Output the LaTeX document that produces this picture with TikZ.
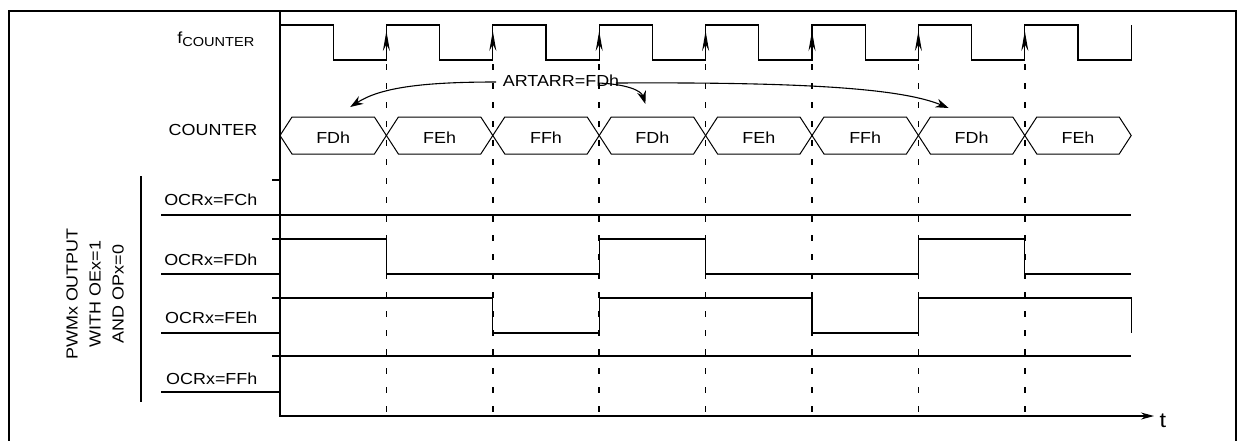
\documentclass[tikz,border=0pt]{standalone}
\usepackage{fontspec}
\setmainfont[FakeStretch=1.12]{Liberation Sans}
\usetikzlibrary{arrows.meta}

\begin{document}
\begin{tikzpicture}[x=1pt, y=-1pt, line width=1.3pt,
  every node/.style={font=\fontsize{16}{19}\selectfont, inner sep=0pt},
  rowlbl/.style={anchor=east},
  edge/.style={line width=1.7pt, dash pattern=on 6pt off 13pt},
  hexa/.style={line width=1pt},
  pointer/.style={line width=1.1pt, -{Stealth[length=13pt,width=9pt]}}]
  \useasboundingbox (0,0) rectangle (1239,440);
  \draw (9,11) rectangle (1236,445);
  \def\T{106.4}

  % axes
  \draw[-{Stealth[length=13pt,width=7pt]}] (280,11) |- (1154,416);
  \node[font=\fontsize{21}{21}\selectfont] (t) at (1163,421) {t};

  % clock
  \node[rowlbl] (fclk) at (255,39) {f\raisebox{-3pt}{\fontsize{13}{13}\selectfont COUNTER}};
  \draw (280,25) \foreach \k in {1,...,8} {-- ++(\T/2,0) -- ++(0,35) -- ++(\T/2,0) -- ++(0,-35)};
  \foreach \k in {1,...,7} {
    \draw[line width=1.2pt, -{Stealth[length=20pt,width=7pt]}] (280+\k*\T,58) -- (280+\k*\T,31);
    \draw[edge] (280+\k*\T,64) -- (280+\k*\T,416);
  }

  % counter values
  \node[rowlbl] (cnt) at (258,130) {COUNTER};
  \foreach \v [count=\k from 1] in {FDh,FEh,FFh,FDh,FEh,FFh,FDh,FEh} {
    \pgfmathsetmacro\a{280+(\k-1)*\T}
    \pgfmathsetmacro\b{\a+\T}
    \draw[hexa] (\a,135.5) -- (\a+12,117) -- (\b-12,117) -- (\b,135.5) -- (\b-12,154) -- (\a+12,154) -- cycle;
    \coordinate (h\k) at ({(\a+\b)/2},117);
    \node (c\k) at ({(\a+\b)/2},138) {\v};
  }

  % auto-reload
  \node (artarr) at (561,81) {ARTARR=FDh};
  \draw[pointer] ([xshift=-6pt,yshift=-1pt]artarr.west) .. controls (420,82) and (380,88) .. ([xshift=17pt,yshift=10pt]h1);
  \draw[pointer] ([xshift=-22pt,yshift=-2pt]artarr.east) .. controls (625,84) and (641,90) .. ([xshift=-7pt,yshift=13pt]h4);
  \draw[pointer] ([xshift=-4pt,yshift=-2pt]artarr.east) .. controls (800,82) and (900,88) .. ([xshift=-23pt,yshift=9pt]h7);

  % pwm outputs
  \node[rotate=90, align=center, font=\fontsize{16}{23}\selectfont] (pwm) at (95,294) {PWMx OUTPUT\\WITH OEx=1\\AND OPx=0};
  \draw (141,176) -- (141,402);

  \node[rowlbl] (fch) at (258,200) {OCRx=FCh};
  \draw (161,215) -- (1131.2,215);
  \draw (272,180) -- (280,180);

  \node[rowlbl] (fdh) at (258,260) {OCRx=FDh};
  \draw (161,274) -- (280,274);
  \draw (272,239) -| (386.4,274) -| (599.2,239) -| (705.6,274) -| (918.4,239) -| (1024.8,274) -- (1131.2,274);

  \node[rowlbl] (feh) at (258,318) {OCRx=FEh};
  \draw (161,333) -- (280,333);
  \draw (272,298) -| (492.8,333) -| (599.2,298) -| (812,333) -| (918.4,298) -| (1131.2,333);

  \node[rowlbl] (ffh) at (258,379) {OCRx=FFh};
  \draw (161,392) -- (280,392);
  \draw (272,356) -- (1131.2,356);
\end{tikzpicture}
\end{document}
